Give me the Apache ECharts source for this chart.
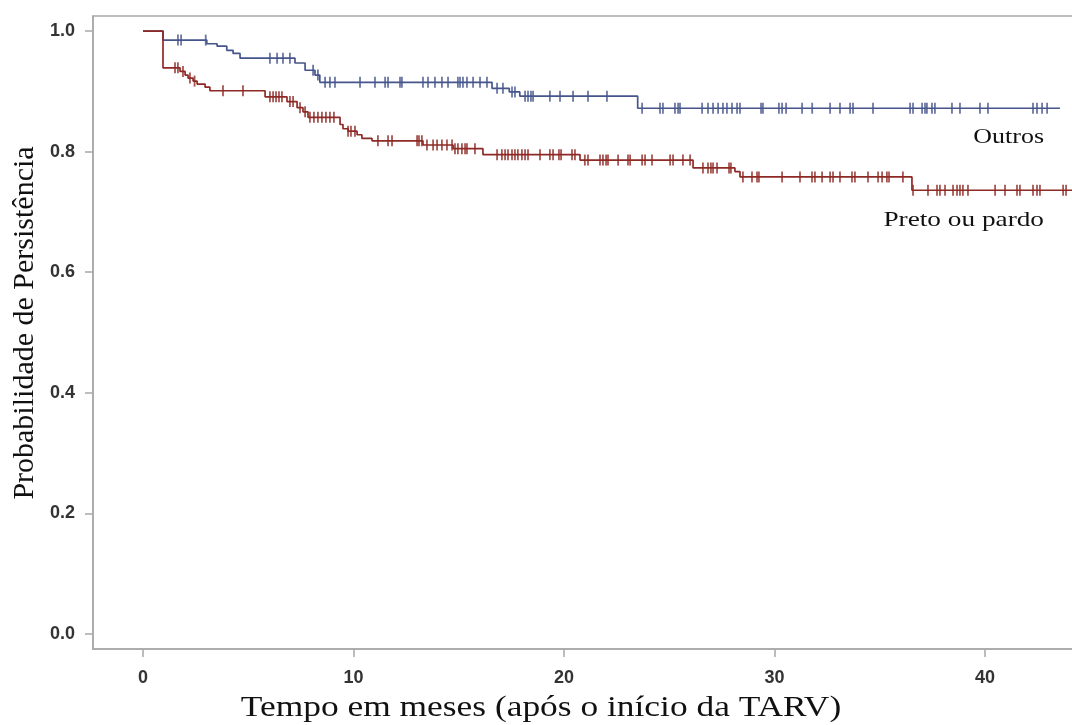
<!DOCTYPE html>
<html><head><meta charset="utf-8">
<script src="https://cdn.jsdelivr.net/npm/echarts@6/dist/echarts.min.js"></script>
<style>html,body{margin:0;padding:0;background:#fff}#c{width:1072px;height:725px}</style>
</head><body><div id="c"></div>
<script>
// Kaplan-Meier step data (months, survival probability)
const outrosTimes = [0, 0.95, 3.03, 3.52, 3.98, 4.28, 4.61, 7.22, 7.70, 8.17, 8.4, 16.58, 17.4, 17.9, 23.5];
const outrosSurv  = [1.0, 0.985, 0.979, 0.975, 0.968, 0.963, 0.955, 0.947, 0.935, 0.927, 0.915, 0.905, 0.899, 0.892, 0.872];
const outrosEnd = 43.56;
const outrosCensor = [1.66, 1.81, 2.98, 6.03, 6.37, 6.65, 6.98, 8.08, 8.31, 8.65, 8.88, 9.12, 10.31, 11.02, 11.5, 11.64, 12.21, 12.3, 13.3, 13.54, 13.87, 14.2, 14.49, 14.96, 15.06, 15.2, 15.39, 15.68, 16.01, 16.34, 16.82, 17.1, 17.53, 17.67, 18.15, 18.29, 18.43, 18.53, 19.33, 19.81, 20.43, 21.14, 22.04, 23.71, 24.56, 24.7, 25.27, 25.42, 25.51, 26.56, 26.84, 27.08, 27.32, 27.55, 27.74, 27.98, 28.22, 28.36, 29.36, 29.45, 30.21, 30.36, 30.55, 31.31, 31.79, 32.64, 33.11, 33.59, 33.73, 34.68, 36.44, 36.58, 37.01, 37.15, 37.24, 37.48, 37.62, 38.43, 38.81, 39.76, 40.14, 42.28, 42.47, 42.71, 42.95];

const pretoTimes = [0, 0.95, 1.76, 2.0, 2.14, 2.38, 2.57, 2.95, 3.18, 5.8, 6.84, 7.32, 7.6, 7.84, 9.36, 9.5, 9.74, 10.17, 10.4, 10.88, 13.3, 14.73, 16.15, 20.76, 26.13, 28.12, 28.36, 36.53];
const pretoSurv  = [1.0, 0.939, 0.933, 0.927, 0.922, 0.917, 0.912, 0.907, 0.901, 0.891, 0.883, 0.873, 0.866, 0.857, 0.845, 0.838, 0.834, 0.828, 0.822, 0.818, 0.811, 0.805, 0.795, 0.786, 0.773, 0.767, 0.758, 0.736];
const pretoEnd = 44.2;
const pretoCensor = [1.52, 1.66, 1.9, 2.23, 2.45, 3.8, 4.75, 6.03, 6.18, 6.32, 6.46, 6.6, 6.98, 7.13, 7.46, 7.7, 7.93, 8.12, 8.31, 8.5, 8.69, 8.88, 9.07, 9.74, 9.88, 10.07, 11.16, 11.64, 11.83, 13.02, 13.11, 13.25, 13.49, 13.78, 13.97, 14.2, 14.44, 14.68, 14.82, 14.96, 15.15, 15.3, 15.39, 15.77, 16.82, 17.05, 17.2, 17.34, 17.53, 17.67, 17.81, 18.0, 18.15, 18.29, 18.86, 19.33, 19.48, 19.76, 19.86, 20.38, 20.52, 20.99, 21.14, 21.71, 21.85, 22.0, 22.09, 22.57, 23.04, 23.14, 23.71, 23.85, 24.18, 25.04, 25.18, 25.65, 25.99, 26.6, 26.84, 26.98, 27.08, 27.27, 27.84, 27.93, 28.5, 28.93, 29.17, 29.26, 30.36, 31.21, 31.78, 31.92, 32.26, 32.64, 32.78, 33.11, 33.68, 33.82, 34.44, 34.92, 35.11, 35.34, 35.44, 36.1, 36.58, 37.29, 37.72, 37.86, 38.1, 38.48, 38.67, 38.81, 38.95, 39.19, 40.48, 40.95, 41.52, 41.66, 42.28, 42.47, 42.61, 43.71, 43.85];

const xTicks = [0, 10, 20, 30, 40];
const yTicks = [0, 0.2, 0.4, 0.6, 0.8, 1.0];
const groupNames = ['Outros', 'Preto ou pardo'];
const xTitle = 'Tempo em meses (após o início da TARV)';
const yTitle = 'Probabilidade de Persistência';

const BLUE = '#46558c', RED = '#8e2a26';

function survAt(times, surv, t) {
  let v = surv[0];
  for (let i = 0; i < times.length; i++) { if (times[i] <= t) v = surv[i]; else break; }
  return v;
}
function stepData(times, surv, end) {
  const d = times.map((t, i) => [t, surv[i]]);
  d.push([end, surv[surv.length - 1]]);
  return d;
}
function censorData(times, surv, cens) {
  return cens.map(t => [t, survAt(times, surv, t)]);
}

const chart = echarts.init(document.getElementById('c'), null, {renderer: 'canvas'});
const tickFont = {fontFamily: 'Liberation Sans, Arial, sans-serif', fontSize: 18, fontWeight: 'bold', color: '#333'};
const serif = '"Liberation Serif", "Times New Roman", serif';

chart.setOption({
  animation: false,
  backgroundColor: '#fff',
  grid: {left: 93, right: -1, top: 16, bottom: 76, show: true, borderColor: '#a8a8a8', borderWidth: 1.5,
         outerBoundsMode: 'none', containLabel: false},
  xAxis: {
    type: 'value', min: -2.375, max: 44.18,
    axisLine: {show: true, onZero: false, lineStyle: {color: '#a8a8a8', width: 1.5}},
    axisTick: {show: true, length: 8, customValues: xTicks, lineStyle: {color: '#a8a8a8', width: 1.5}},
    axisLabel: Object.assign({customValues: xTicks, margin: 20, formatter: v => String(Math.round(v))}, tickFont),
    splitLine: {show: false}
  },
  yAxis: {
    type: 'value', min: -0.025, max: 1.025,
    axisLine: {show: true, onZero: false, lineStyle: {color: '#a8a8a8', width: 1.5}},
    axisTick: {show: true, length: 8, customValues: yTicks, lineStyle: {color: '#a8a8a8', width: 1.5}},
    axisLabel: Object.assign({customValues: yTicks, margin: 18, formatter: v => v.toFixed(1)}, tickFont),
    splitLine: {show: false}
  },
  series: [
    {name: groupNames[0], type: 'line', step: 'end', showSymbol: false, silent: true,
     data: stepData(outrosTimes, outrosSurv, outrosEnd), lineStyle: {color: BLUE, width: 1.7}, itemStyle: {color: BLUE}},
    {name: groupNames[1], type: 'line', step: 'end', showSymbol: false, silent: true,
     data: stepData(pretoTimes, pretoSurv, pretoEnd), lineStyle: {color: RED, width: 1.7}, itemStyle: {color: RED}},
    {name: groupNames[0] + ' censor', type: 'scatter', symbol: 'rect', symbolSize: [1.8, 11], silent: true,
     data: censorData(outrosTimes, outrosSurv, outrosCensor), itemStyle: {color: BLUE}},
    {name: groupNames[1] + ' censor', type: 'scatter', symbol: 'rect', symbolSize: [1.8, 11], silent: true,
     data: censorData(pretoTimes, pretoSurv, pretoCensor), itemStyle: {color: RED}}
  ],
  graphic: [
    {type: 'text', x: 541, y: 708, scaleX: 1.18,
     style: {text: xTitle, font: '30px ' + serif, fill: '#111', align: 'center', verticalAlign: 'middle'}},
    {type: 'text', x: 25, y: 323, rotation: Math.PI / 2,
     style: {text: yTitle, font: '30px ' + serif, fill: '#111', align: 'center', verticalAlign: 'middle'}},
    {type: 'text', x: 1044, y: 137, scaleX: 1.18,
     style: {text: groupNames[0], font: '22px ' + serif, fill: '#111', align: 'right', verticalAlign: 'middle'}},
    {type: 'text', x: 1044, y: 220, scaleX: 1.24,
     style: {text: groupNames[1], font: '22px ' + serif, fill: '#111', align: 'right', verticalAlign: 'middle'}}
  ]
});
</script>
</body></html>
